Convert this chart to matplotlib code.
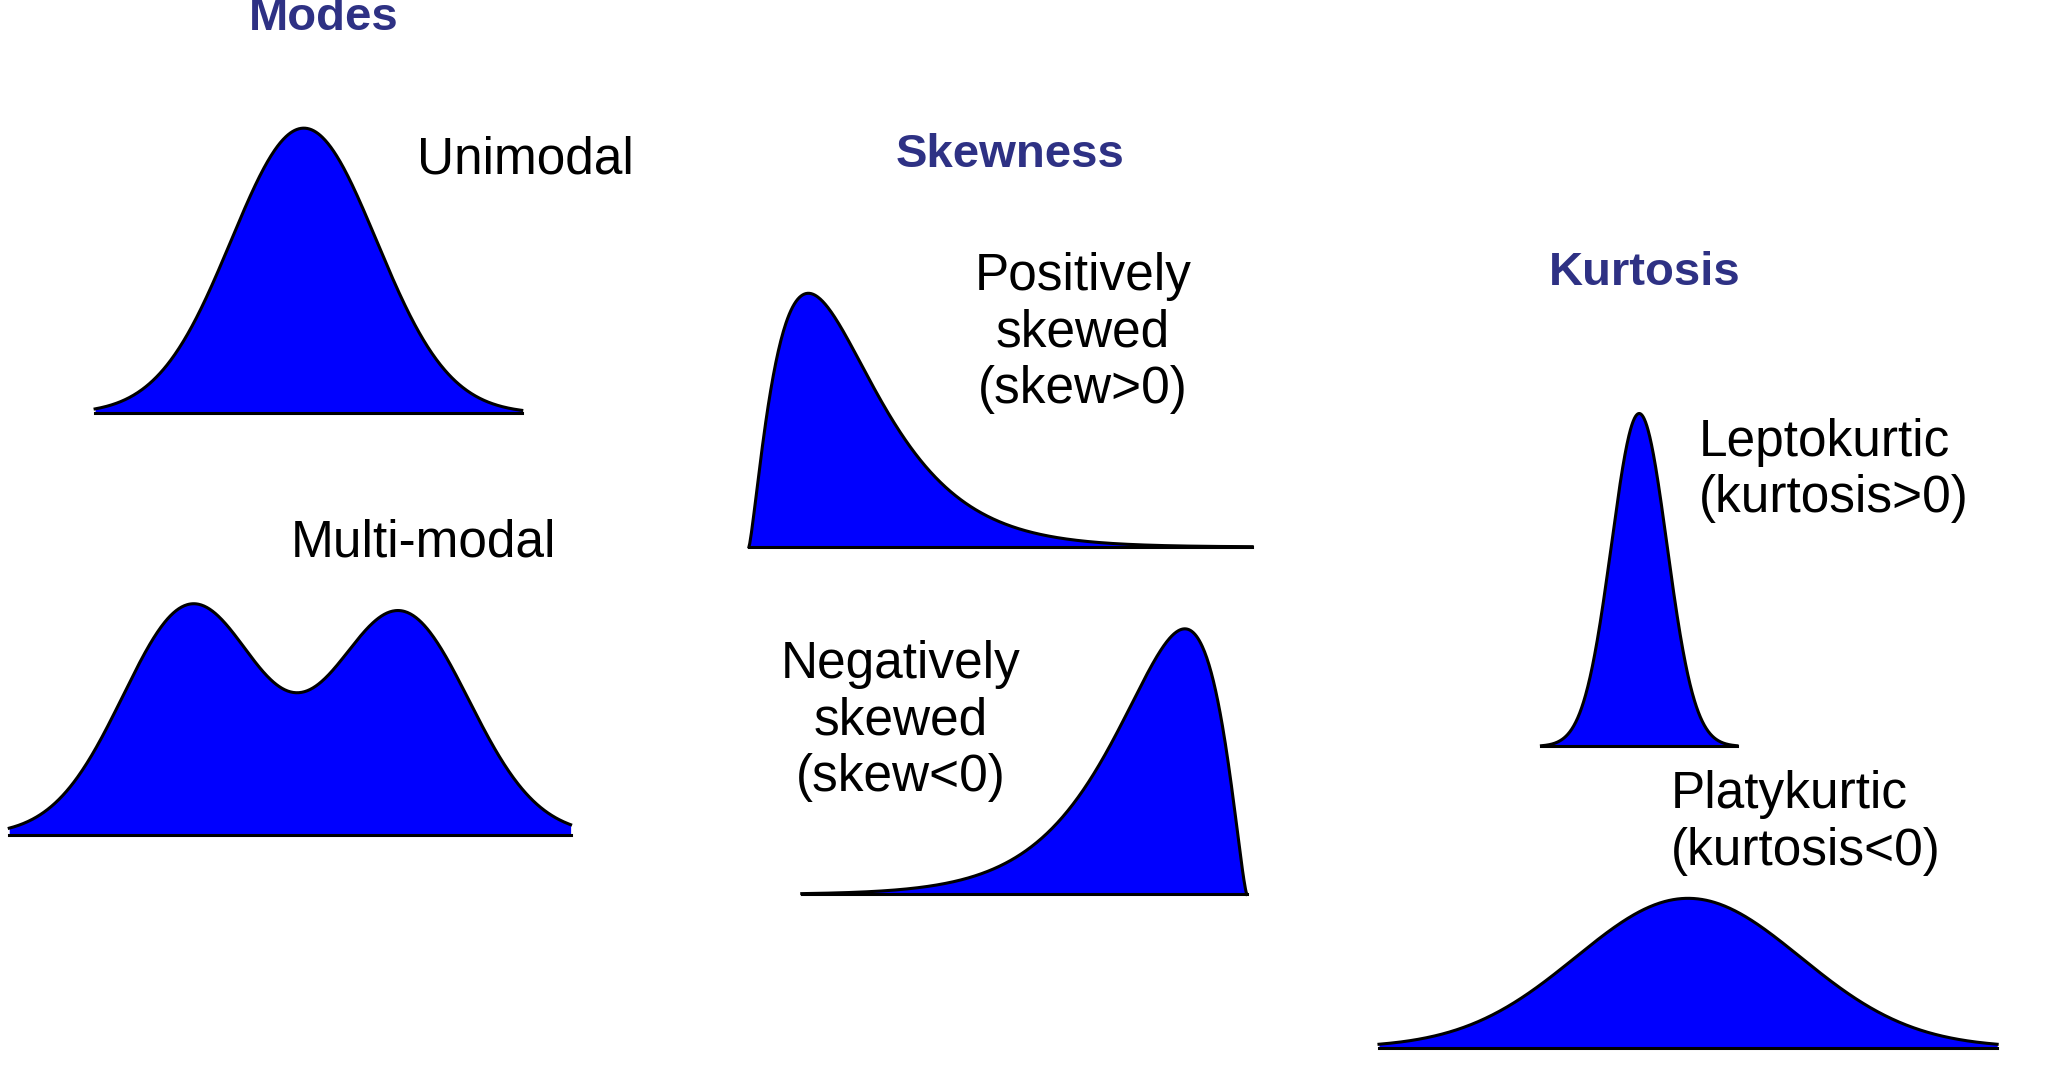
import numpy as np
import matplotlib.pyplot as plt

plt.rcParams['font.family'] = 'Liberation Sans'

W, H = 1552, 816          # layout units (reference scaled)
BLUE = '#0000ff'
NAVY = '#2e3184'

# section titles: text, x, y
titles = [('Modes', 245, 14), ('Skewness', 765, 117), ('Kurtosis', 1245, 207)]

# curve parameters: name, kind, x_left, x_right, baseline_y, peak_y, shape params
curves = [
    ('unimodal', 'gauss', 72, 395, 313, 97, (230, 55)),
    ('multimodal', 'bimodal', 7, 432, 632, 457, (145, 303, 52, 0.97)),
    ('positive', 'gamma', 567, 948, 414, 222, (612, 1.3)),
    ('negative', 'gamma_rev', 607, 944, 677, 476, (897, 1.4)),
    ('lepto', 'gauss', 1167, 1315, 565, 313, (1241, 21)),
    ('platy', 'gauss', 1044, 1512, 793, 680, (1278, 85)),
]

# labels: text, x, y, horizontal alignment
labels = [
    ('Unimodal', 316, 121, 'left'),
    ('Multi-modal', 220, 411, 'left'),
    ('Positively\nskewed\n(skew>0)', 820, 252, 'center'),
    ('Negatively\nskewed\n(skew<0)', 682, 546, 'center'),
    ('Leptokurtic\n(kurtosis>0)', 1286, 356, 'left'),
    ('Platykurtic\n(kurtosis<0)', 1265, 623, 'left'),
]


def shape(kind, x, p):
    if kind == 'gauss':
        c, s = p
        return np.exp(-(x - c) ** 2 / (2 * s ** 2))
    if kind == 'bimodal':
        c1, c2, s, w2 = p
        return np.exp(-(x - c1) ** 2 / (2 * s ** 2)) + w2 * np.exp(-(x - c2) ** 2 / (2 * s ** 2))
    if kind == 'gamma':
        pk, k = p
        x0 = x[0]
        sc = (pk - x0) / k
        t = (x - x0) / sc
        return t ** k * np.exp(-t)
    if kind == 'gamma_rev':
        pk, k = p
        x1 = x[-1]
        sc = (x1 - pk) / k
        t = (x1 - x) / sc
        return t ** k * np.exp(-t)


fig = plt.figure(figsize=(20.5, 10.78), dpi=100)
ax = fig.add_axes([0, 0, 1, 1])
ax.set_xlim(0, W)
ax.set_ylim(H, 0)
ax.axis('off')

for name, kind, xl, xr, base, peak, p in curves:
    x = np.linspace(xl, xr, 600)
    f = shape(kind, x, p)
    f = f / f.max()
    y = base - f * (base - peak)
    ax.fill_between(x, base, y, color=BLUE, lw=0)
    ax.plot(x, y, color='black', lw=2.2)
    ax.plot([xl, xr], [base, base], color='black', lw=2.2)

for t, x, y in titles:
    ax.text(x, y, t, ha='center', va='center', fontsize=34, fontweight='bold', color=NAVY)

for t, x, y, ha in labels:
    ax.text(x, y, t, ha=ha, va='center', fontsize=37, color='black',
            multialignment='center' if ha == 'center' else 'left', linespacing=1.2)

fig.savefig('out.png', dpi=100)
